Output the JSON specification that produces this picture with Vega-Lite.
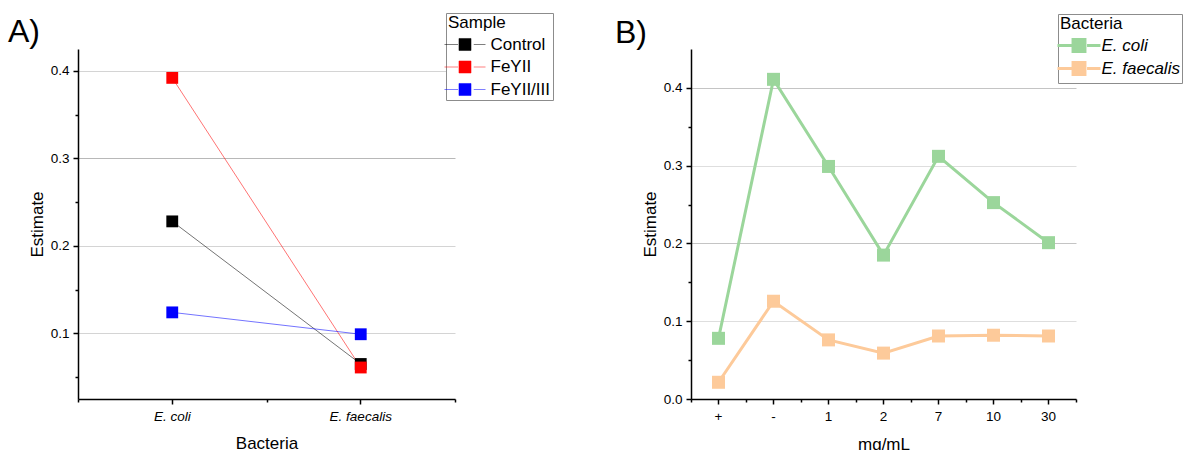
{
  "$schema": "https://vega.github.io/schema/vega-lite/v6.json",
  "autosize": {"type": "pad"},
  "padding": {"left": 8, "top": 12, "right": 0, "bottom": 0},
  "spacing": 236,
  "bounds": "flush",
  "config": {
    "font": "Liberation Sans",
    "view": {"stroke": null},
    "axis": {"labelColor": "#000", "titleColor": "#000", "labelFontSize": 13.5, "titleFontSize": 17, "titleFontWeight": "normal"},
    "legend": {"titleColor": "#000", "labelColor": "#000"}
  },
  "resolve": {"scale": {"color": "independent"}, "legend": {"color": "independent"}},
  "hconcat": [
    {
      "name": "pA",
      "width": 377,
      "height": 350,
      "title": {"text": "A)", "anchor": "start", "frame": "group", "fontSize": 32, "fontWeight": "normal", "dx": -70, "dy": 66, "baseline": "alphabetic", "offset": 5, "color": "#000"},
      "data": {"values": [
        {"Bacteria": "E. coli", "Sample": "Control", "Estimate": 0.228},
        {"Bacteria": "E. faecalis", "Sample": "Control", "Estimate": 0.065},
        {"Bacteria": "E. coli", "Sample": "FeYII", "Estimate": 0.392},
        {"Bacteria": "E. faecalis", "Sample": "FeYII", "Estimate": 0.061},
        {"Bacteria": "E. coli", "Sample": "FeYII/III", "Estimate": 0.124},
        {"Bacteria": "E. faecalis", "Sample": "FeYII/III", "Estimate": 0.099}
      ]},
      "encoding": {
        "y": {
          "field": "Estimate", "type": "quantitative",
          "scale": {"domain": [0.025, 0.425], "nice": false, "zero": false},
          "axis": {
            "title": "Estimate",
            "values": [0.05, 0.1, 0.15, 0.2, 0.25, 0.3, 0.35, 0.4],
            "format": ".1f",
            "labelExpr": "round(datum.value*100)%10==0 ? datum.label : ''",
            "tickSize": {"condition": {"test": "round(datum.value*100)%10==0", "value": 5}, "value": 3},
            "gridOpacity": {"condition": {"test": "round(datum.value*100)%10==0", "value": 1}, "value": 0},
            "gridColor": {"condition": {"test": "round(datum.value*100)==30", "value": "#b8b8b8"}, "value": "#d4d4d4"},
            "grid": true,
            "domainColor": "#000", "domainWidth": 1.5,
            "tickColor": "#000", "tickWidth": 1.5,
            "labelPadding": 4, "titlePadding": 4
          }
        },
        "color": {
          "field": "Sample", "type": "nominal",
          "scale": {"range": ["#000000", "#ff0000", "#0000ff"]},
          "legend": {
            "title": "Sample", "orient": "none", "legendX": 368, "legendY": -36,
            "symbolType": "M-2.93,0H-1.0M-0.86,-0.86H0.86V0.86H-0.86ZM1.25,0H2.93",
            "symbolSize": 196, "symbolOffset": 8.5, "symbolStrokeWidth": 1,
            "labelOffset": 17,
            "strokeColor": "#8c8c8c", "fillColor": "white", "padding": 2,
            "titleFontSize": 17, "titleFontWeight": "normal", "labelFontSize": 17,
            "rowPadding": 4.5, "titlePadding": 4,
            "encode": {"symbols": {"update": {
              "fill": {"scale": "pA_color", "field": "value"},
              "stroke": {"scale": "pA_color", "field": "value"},
              "strokeOpacity": {"value": 0.5},
              "opacity": {"value": 1}
            }}}
          }
        }
      },
      "layer": [
        {
          "mark": {"type": "line", "strokeWidth": 1, "strokeOpacity": 0.55},
          "encoding": {
            "x": {
              "field": "Bacteria", "type": "nominal",
              "scale": {"type": "band", "paddingInner": 0, "paddingOuter": 0},
              "axis": {"title": "Bacteria", "labelAngle": 0, "labelFontStyle": "italic", "tickSize": 5, "tickWidth": 1.5, "tickColor": "#000", "domainColor": "#000", "domainWidth": 1.5, "labelPadding": 5, "titlePadding": 13, "grid": false}
            }
          }
        },
        {
          "mark": {"type": "point", "shape": "square", "filled": true, "size": 140, "opacity": 1, "strokeWidth": 0},
          "encoding": {
            "x": {
              "field": "Bacteria", "type": "nominal",
              "axis": {"orient": "bottom", "tickBand": "extent", "labels": false, "domain": false, "grid": false, "title": null, "tickSize": 3, "tickWidth": 1.5, "tickColor": "#000"}
            }
          }
        }
      ],
      "resolve": {"axis": {"x": "independent"}}
    },
    {
      "name": "pB",
      "width": 385,
      "height": 350,
      "title": {"text": "B)", "anchor": "start", "frame": "group", "fontSize": 32, "fontWeight": "normal", "dx": -76, "dy": 66, "baseline": "alphabetic", "offset": 5, "color": "#000"},
      "data": {"values": [
        {"Bacteria": "E. coli", "Conc": "+", "Estimate": 0.078},
        {"Bacteria": "E. coli", "Conc": "-", "Estimate": 0.411},
        {"Bacteria": "E. coli", "Conc": "1", "Estimate": 0.299},
        {"Bacteria": "E. coli", "Conc": "2", "Estimate": 0.185},
        {"Bacteria": "E. coli", "Conc": "7", "Estimate": 0.312},
        {"Bacteria": "E. coli", "Conc": "10", "Estimate": 0.2525},
        {"Bacteria": "E. coli", "Conc": "30", "Estimate": 0.201},
        {"Bacteria": "E. faecalis", "Conc": "+", "Estimate": 0.0215},
        {"Bacteria": "E. faecalis", "Conc": "-", "Estimate": 0.1257},
        {"Bacteria": "E. faecalis", "Conc": "1", "Estimate": 0.076},
        {"Bacteria": "E. faecalis", "Conc": "2", "Estimate": 0.059},
        {"Bacteria": "E. faecalis", "Conc": "7", "Estimate": 0.081},
        {"Bacteria": "E. faecalis", "Conc": "10", "Estimate": 0.082},
        {"Bacteria": "E. faecalis", "Conc": "30", "Estimate": 0.081}
      ]},
      "encoding": {
        "y": {
          "field": "Estimate", "type": "quantitative",
          "scale": {"domain": [0, 0.45], "nice": false, "zero": false},
          "axis": {
            "title": "Estimate",
            "values": [0, 0.05, 0.1, 0.15, 0.2, 0.25, 0.3, 0.35, 0.4],
            "format": ".1f",
            "labelExpr": "round(datum.value*100)%10==0 ? datum.label : ''",
            "tickSize": {"condition": {"test": "round(datum.value*100)%10==0", "value": 5}, "value": 3},
            "gridOpacity": {"condition": {"test": "round(datum.value*100)%10==0 && datum.value>0", "value": 1}, "value": 0},
            "gridColor": {"condition": {"test": "round(datum.value*100)==40 || round(datum.value*100)==20", "value": "#c4c4c4"}, "value": "#dedede"},
            "grid": true,
            "domainColor": "#000", "domainWidth": 1.5,
            "tickColor": "#000", "tickWidth": 1.5,
            "labelPadding": 4, "titlePadding": 4
          }
        },
        "color": {
          "field": "Bacteria", "type": "nominal",
          "scale": {"range": ["#9bd69b", "#fdca9a"]},
          "legend": {
            "title": "Bacteria", "orient": "none", "legendX": 367, "legendY": -35,
            "symbolType": "M-3.07,0H-1.0M-0.85,-0.85H0.85V0.85H-0.85ZM1.15,0H3.07",
            "symbolSize": 196, "symbolOffset": 10.5, "symbolStrokeWidth": 3,
            "labelOffset": 14,
            "strokeColor": "#8c8c8c", "fillColor": "white", "padding": 2,
            "titleFontSize": 17, "titleFontWeight": "normal", "labelFontSize": 17, "labelFontStyle": "italic",
            "rowPadding": -2, "titlePadding": 4,
            "encode": {"symbols": {"update": {
              "fill": {"scale": "pB_color", "field": "value"},
              "stroke": {"scale": "pB_color", "field": "value"},
              "opacity": {"value": 1}
            }}}
          }
        }
      },
      "layer": [
        {
          "mark": {"type": "line", "strokeWidth": 3},
          "encoding": {
            "x": {
              "field": "Conc", "type": "ordinal",
              "sort": ["+", "-", "1", "2", "7", "10", "30"],
              "scale": {"type": "band", "paddingInner": 0, "paddingOuter": 0},
              "axis": {"title": "mg/mL", "labelAngle": 0, "tickSize": 5, "tickWidth": 1.5, "tickColor": "#000", "domainColor": "#000", "domainWidth": 1.5, "labelPadding": 5, "titlePadding": 14, "grid": false}
            }
          }
        },
        {
          "mark": {"type": "point", "shape": "square", "filled": true, "size": 169, "opacity": 1, "strokeWidth": 0},
          "encoding": {
            "x": {
              "field": "Conc", "type": "ordinal",
              "sort": ["+", "-", "1", "2", "7", "10", "30"],
              "axis": {"orient": "bottom", "tickBand": "extent", "labels": false, "domain": false, "grid": false, "title": null, "tickSize": 3, "tickWidth": 1.5, "tickColor": "#000"}
            }
          }
        }
      ],
      "resolve": {"axis": {"x": "independent"}}
    }
  ]
}
